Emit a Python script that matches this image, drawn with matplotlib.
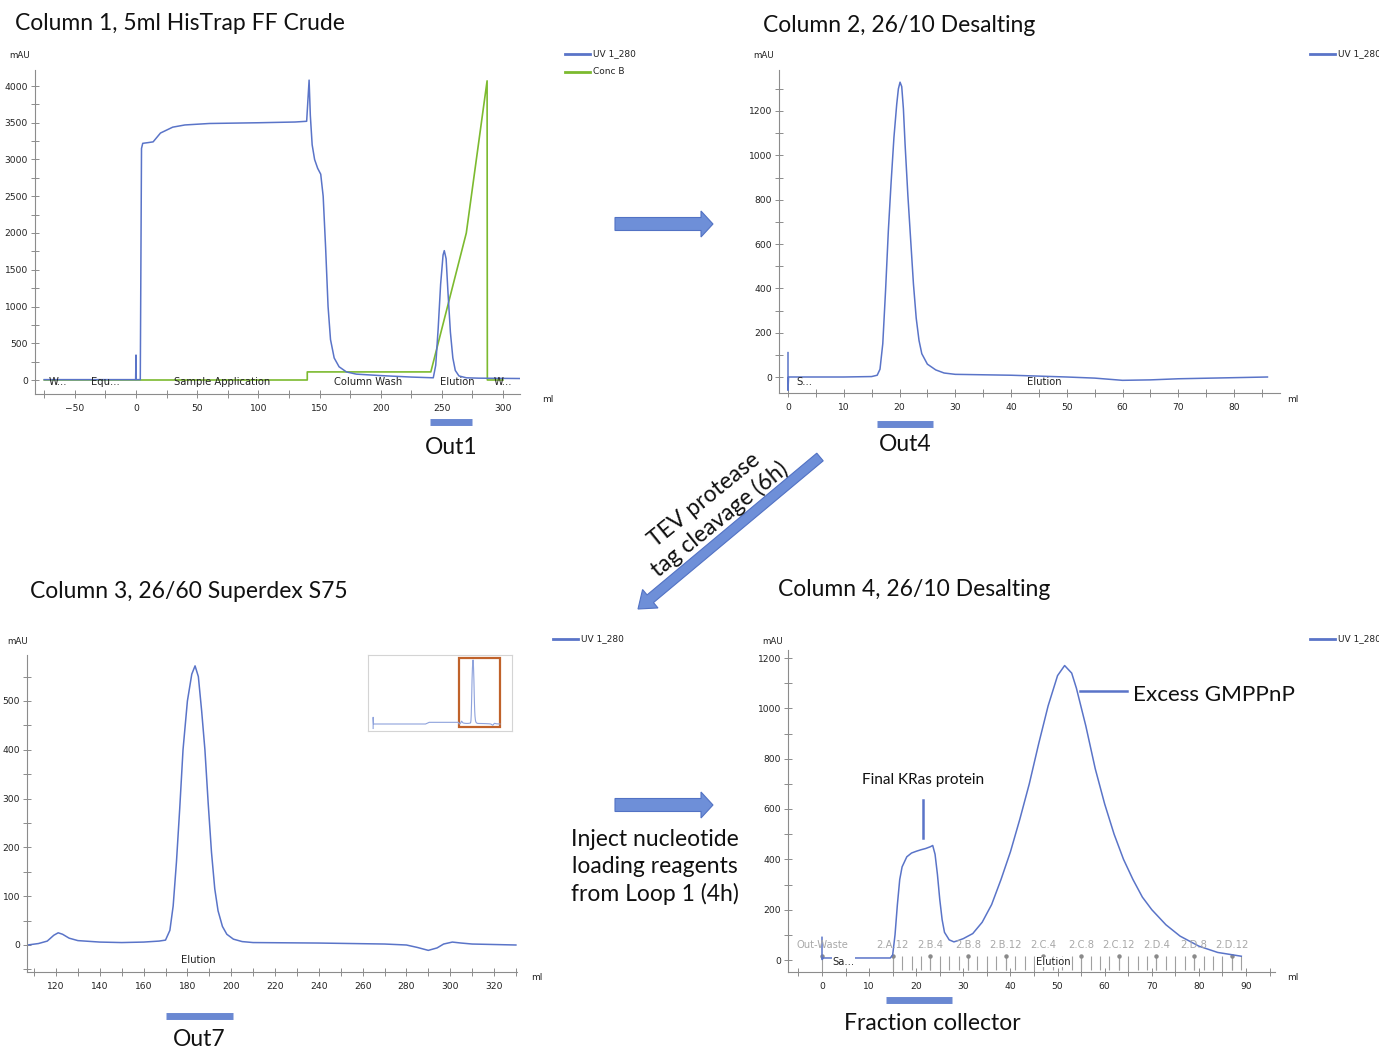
import matplotlib.pyplot as plt
import numpy as np
from matplotlib.patches import FancyArrow, Rectangle
from matplotlib.ticker import MultipleLocator

W, H = 1379, 1049

# ---- column 1, HisTrap FF crude ----
c1_ml = [-75, -0.3, 0, 0.2, 3.5, 4.5, 5.5, 10, 14, 17, 20, 25, 30, 40, 60, 100, 130,
         139.5, 140.5, 141.5, 142.5, 144, 146, 148.5, 151, 153, 155, 157, 159, 162,
         166, 172, 180, 200, 225, 243, 245, 247, 249, 251, 252, 253.5, 255, 257,
         259, 261, 264, 270, 280, 315]
c1_uv = [5, 5, 340, 5, 5, 3150, 3220, 3230, 3240, 3300, 3360, 3400, 3440, 3470, 3490,
         3500, 3510, 3520, 3800, 4080, 3600, 3200, 3000, 2880, 2800, 2500, 1800, 1000,
         550, 300, 180, 110, 80, 60, 40, 30, 200, 700, 1300, 1700, 1760, 1650, 1200,
         650, 300, 130, 55, 30, 25, 20]
c1_concb_ml = [-75, 140, 140, 239, 241, 270, 287, 287.2, 300]
c1_concb = [0, 0, 110, 110, 110, 2000, 4070, 0, 0]
c1_phase_ml = [-64, -25, 70, 190, 263, 300]
c1_phase = ["W...", "Equ...", "Sample Application", "Column Wash", "Elution", "W..."]
c1_pool = [240, 275]

# ---- column 2, desalting ----
c2_ml = [0, 0, 0.1, 10, 15, 16, 16.5, 17, 17.5, 18, 18.5, 19, 19.5, 19.8, 20.1, 20.4,
         20.7, 21, 21.5, 22, 22.5, 23, 23.5, 24, 25, 26.5, 28, 30, 40, 50, 55, 60, 65,
         70, 80, 86]
c2_uv = [110, -60, 0, 0, 2, 8, 35, 150, 390, 660, 880, 1080, 1230, 1300, 1330, 1310,
         1210, 1050, 820, 620, 420, 265, 165, 105, 58, 32, 18, 12, 8, 0, -5, -15, -13,
         -8, -3, 0]
c2_phase_ml = [3, 46]
c2_phase = ["S...", "Elution"]
c2_pool = [16, 26]

# ---- column 3, Superdex S75 ----
c3_ml = [107, 112, 116, 119, 121, 123, 126, 130, 140, 150, 160, 167, 170, 172, 173.5,
         175, 176.5, 178, 180, 182, 183.5, 185, 186.5, 188, 189.5, 191, 192.5, 194,
         196, 198, 201, 205, 210, 240, 270, 280, 285, 290, 294, 297, 301, 305, 310,
         320, 330]
c3_uv = [0, 3, 8, 20, 25, 22, 14, 9, 6, 5, 6, 8, 10, 30, 80, 170, 280, 400, 500, 555,
         572, 550, 480, 400, 290, 190, 115, 70, 38, 22, 12, 7, 5, 4, 2, 0, -5, -11, -6,
         2, 6, 4, 2, 1, 0]
c3_pre_ml = [-360, -360, -358, -75, -55, 105]
c3_pre_uv = [-40, 60, 0, 0, 15, 15]
c3_pool = [170, 201]

# ---- column 4, desalting with fraction collector ----
c4_ml = [0, 0, 0.3, 14.5, 15, 15.5, 16, 16.5, 17, 18, 19, 20, 21, 22, 23, 23.5, 24,
         24.5, 25, 25.5, 26, 27, 28, 29, 30, 32, 34, 36, 38, 40, 42, 44, 46, 48, 50,
         51.5, 53, 54, 56, 58, 60, 62, 64, 66, 68, 70, 73, 76, 80, 84, 89]
c4_uv = [90, 2, 8, 8, 20, 100, 220, 320, 370, 410, 425, 432, 438, 443, 450, 455, 420,
         340, 240, 160, 110, 80, 72, 78, 85, 105, 150, 220, 320, 430, 560, 700, 860,
         1010, 1130, 1170, 1140, 1080, 930, 760, 620, 500, 400, 320, 250, 200, 140, 95,
         55, 30, 15]
c4_frac_ml = [0, 15, 23, 31, 39, 47, 55, 63, 71, 79, 87]
c4_frac = ["Out-Waste", "2.A.12", "2.B.4", "2.B.8", "2.B.12", "2.C.4", "2.C.8",
           "2.C.12", "2.D.4", "2.D.8", "2.D.12"]
c4_phase_ml = [4.5, 49]
c4_phase = ["Sa...", "Elution"]
c4_pool = [13.5, 27.5]

BLUE = "#5a74c8"
GREEN = "#7cba2f"
BAR = "#6a88d2"
GREY = "#8c8c8c"
ANN = "Lato"
BIG = 16.5

fig = plt.figure(figsize=(W / 100, H / 100), dpi=100)


def lims(p0, v0, p1, v1, a, b):
    s = (v1 - v0) / (p1 - p0)
    return v0 + (a - p0) * s, v0 + (b - p0) * s


def panel(box, xcal, ycal, xmaj, xmin, ymaj, ymin):
    left, top, right, bottom = box
    ax = fig.add_axes([left / W, 1 - bottom / H, (right - left) / W, (bottom - top) / H])
    ax.set_xlim(*lims(*xcal, left, right))
    ax.set_ylim(*lims(*ycal, bottom, top))
    ax.set_facecolor("none")
    for s in ["top", "right"]:
        ax.spines[s].set_visible(False)
    for s in ["left", "bottom"]:
        ax.spines[s].set_color(GREY)
        ax.spines[s].set_linewidth(0.8)
    ax.xaxis.set_major_locator(MultipleLocator(xmaj))
    ax.xaxis.set_minor_locator(MultipleLocator(xmin))
    ax.yaxis.set_major_locator(MultipleLocator(ymaj))
    ax.yaxis.set_minor_locator(MultipleLocator(ymin))
    ax.tick_params(which="both", direction="inout", length=6, width=0.7, color=GREY,
                   labelsize=6.6, labelcolor="#222222", pad=2)
    ax.tick_params(axis="x", pad=4)
    return ax


def pool(ax, box, rng, label, py_bar, py_txt, shift=0):
    left, top, right, bottom = box
    yb = (bottom - py_bar) / (bottom - top)
    yt = (bottom - py_txt) / (bottom - top)
    tr = ax.get_xaxis_transform()
    ax.plot(rng, [yb, yb], transform=tr, clip_on=False, lw=5, color=BAR,
            solid_capstyle="butt")
    ax.text(np.mean(rng) + shift, yt, label, transform=tr, ha="center", va="center",
            fontsize=BIG, family=ANN, color="#111111")


# panel 1
b1 = (35, 70, 520, 394)
ax1 = panel(b1, (136, 0, 503, 300), (380, 0, 86, 4000), 50, 25, 500, 250)
ax1.plot(c1_concb_ml, c1_concb, color=GREEN, lw=1.2)
ax1.plot(c1_ml, c1_uv, color=BLUE, lw=1.1)
for x, t in zip(c1_phase_ml, c1_phase):
    ax1.text(x, -30, t, ha="center", va="center", fontsize=7.2, color="#222222")
pool(ax1, b1, c1_pool, "Out1", 422, 447)

# panel 2
b2 = (779, 70, 1280, 393)
ax2 = panel(b2, (788, 0, 1234, 80), (377, 0, 111, 1200), 10, 5, 200, 100)
ax2.plot(c2_ml, c2_uv, color=BLUE, lw=1.1)
for x, t in zip(c2_phase_ml, c2_phase):
    ax2.text(x, -22, t, ha="center", va="center", fontsize=7.2, color="#222222")
pool(ax2, b2, c2_pool, "Out4", 424, 444)

# panel 3
b3 = (27, 655, 517, 972)
ax3 = panel(b3, (56, 120, 494, 320), (945, 0, 701, 500), 20, 10, 100, 50)
ax3.plot(c3_ml, c3_uv, color=BLUE, lw=1.1)
ax3.text(185, -30, "Elution", ha="center", va="center", fontsize=7.2, color="#222222")
pool(ax3, b3, c3_pool, "Out7", 1016, 1040)

# inset overview for panel 3
ib = (368, 655, 512, 731)
axi = fig.add_axes([ib[0] / W, 1 - ib[3] / H, (ib[2] - ib[0]) / W, (ib[3] - ib[1]) / H])
axi.set_xlim(*lims(459, 107, 500, 330, ib[0], ib[2]))
axi.set_ylim(*lims(724, 0, 660, 572, ib[3], ib[1]))
axi.set_xticks([])
axi.set_yticks([])
for s in axi.spines.values():
    s.set_color("#d4d4d4")
    s.set_linewidth(0.8)
axi.plot(c3_pre_ml + c3_ml, c3_pre_uv + c3_uv, color="#8ea2dc", lw=0.8)
y0, y1 = lims(724, 0, 660, 572, 727, 658)
axi.add_patch(Rectangle((c3_ml[0], y0), c3_ml[-1] - c3_ml[0], y1 - y0, fill=False,
                        edgecolor="#c0622a", lw=1.6))

# panel 4
b4 = (788, 650, 1275, 972)
ax4 = panel(b4, (822, 0, 1246, 90), (960, 0, 658, 1200), 10, 5, 200, 100)
ax4.vlines(np.arange(15, 90, 2), -40, 16, color="#a0a0a0", lw=0.8)
ax4.vlines(c4_frac_ml, -40, 16, color="#a0a0a0", lw=0.8)
ax4.plot(c4_frac_ml, [16] * len(c4_frac_ml), "o", ms=2.2, color="#8a8a8a")
for x, t in zip(c4_frac_ml, c4_frac):
    ax4.text(x, 58, t, ha="center", va="center", fontsize=7.2, color="#a8a8a8")
for x, t in zip(c4_phase_ml, c4_phase):
    ax4.text(x, -8, t, ha="center", va="center", fontsize=7.2, color="#222222",
             bbox=dict(facecolor="white", edgecolor="none", pad=0.3))
ax4.plot(c4_ml, c4_uv, color=BLUE, lw=1.1)
ax4.plot([21.4, 21.4], [485, 636], color=BLUE, lw=1.8)
ax4.text(21.4, 715, "Final KRas protein", ha="center", va="center", fontsize=11,
         family=ANN, color="#111111")
ax4.plot([54.8, 64.7], [1069, 1069], color=BLUE, lw=1.8, clip_on=False)
ax4.text(66, 1053, "Excess GMPPnP", ha="left", va="center", fontsize=16.2,
         family=ANN, color="#111111")
pool(ax4, b4, c4_pool, "Fraction collector", 1000, 1024, shift=3)

# overlay in pixel coordinates for titles, legends and arrows
ov = fig.add_axes([0, 0, 1, 1], zorder=10)
ov.set_xlim(0, W)
ov.set_ylim(H, 0)
ov.axis("off")

titles = [(15, 23, "Column 1, 5ml HisTrap FF Crude"),
          (763, 26, "Column 2, 26/10 Desalting"),
          (30, 592, "Column 3, 26/60 Superdex S75"),
          (778, 589, "Column 4, 26/10 Desalting")]
for x, y, t in titles:
    ov.text(x, y, t, ha="left", va="center", fontsize=BIG, family=ANN, color="#111111")

for x, y in [(20, 56), (764, 56), (18, 641), (773, 641)]:
    ov.text(x, y, "mAU", ha="center", va="center", fontsize=6.3, color="#222222")
for x, y in [(548, 399), (1293, 399), (537, 977), (1293, 978)]:
    ov.text(x, y, "ml", ha="center", va="center", fontsize=6.5, color="#222222")

legends = [(565, 54, BLUE, "UV 1_280"), (565, 72, GREEN, "Conc B"),
           (1310, 54, BLUE, "UV 1_280"), (553, 639, BLUE, "UV 1_280"),
           (1310, 639, BLUE, "UV 1_280")]
for x, y, c, t in legends:
    ov.plot([x, x + 25], [y, y], color=c, lw=2)
    ov.text(x + 28, y, t, ha="left", va="center", fontsize=6.5, color="#222222")

arrow_kw = dict(length_includes_head=True, facecolor="#6e8fd8", edgecolor="#5272c4",
                lw=0.8)
ov.add_patch(FancyArrow(615, 224, 98, 0, width=13, head_width=26, head_length=12,
                        **arrow_kw))
ov.add_patch(FancyArrow(615, 805, 98, 0, width=13, head_width=26, head_length=12,
                        **arrow_kw))
ov.add_patch(FancyArrow(820, 457, -182, 152, width=10, head_width=24, head_length=16,
                        **arrow_kw))
ov.text(712, 510, "TEV protease\ntag cleavage (6h)", ha="center", va="center",
        rotation=39, rotation_mode="anchor", fontsize=BIG, family=ANN,
        color="#111111", linespacing=1.15)
ov.text(655, 867, "Inject nucleotide\nloading reagents\nfrom Loop 1 (4h)",
        ha="center", va="center", fontsize=BIG, family=ANN, color="#111111",
        linespacing=1.35)

fig.savefig("out.png", dpi=100)
